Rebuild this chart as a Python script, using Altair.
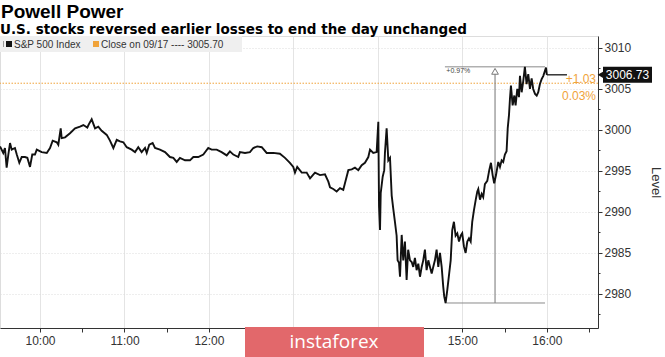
import altair as alt
import pandas as pd

# ---------------- text ----------------
title_text = "Powell Power"
subtitle_text = "U.S. stocks reversed earlier losses to end the day unchanged"
series_name = "S&P 500 Index"
close_label = "Close on 09/17 ---- 3005.70"
axis_title = "Level"
watermark = "instaforex"

# ---------------- data ----------------
# minutes after 09:30 and S&P 500 level
minutes = [1.6, 3.9, 5.1, 6.3, 7.5, 8.7, 9.9, 12.2, 13.5, 15.3, 17.0, 19.3, 21.0, 22.9, 24.5, 26.4, 27.7,
           31.2, 34.8, 37.1, 39.0, 41.9, 43.0, 44.7, 45.4, 47.8, 51.3, 54.9, 58.4, 60.8, 63.6, 65.0, 66.7,
           69.1, 71.4, 73.8, 77.4, 79.7, 82.1, 84.5, 86.8, 89.2, 91.6, 95.1, 97.5, 99.8, 102.2, 104.6,
           105.8, 107.6, 110.0, 111.7, 115.2, 118.8, 122.3, 124.7, 127.1, 129.4, 133.0, 136.5, 138.9,
           142.4, 146.0, 149.5, 151.9, 155.5, 159.0, 162.6, 164.9, 167.3, 170.8, 172.0, 175.6, 179.1,
           181.5, 184.3, 187.5, 191.0, 195.7, 200.4, 204.0, 207.5, 209.9, 211.1, 212.7, 215.9, 219.4,
           221.8, 225.3, 228.9, 232.4, 234.8, 236.0, 238.3, 240.7, 243.1, 245.4, 246.6, 249.0, 251.4,
           253.7, 256.1, 258.5, 260.8, 263.2, 264.4, 266.7, 269.1, 270.3, 270.8, 271.5, 272.0, 273.4,
           274.5, 275.0, 276.2, 277.4, 278.6, 279.8, 280.9, 282.1, 283.3, 284.0, 285.0, 285.7, 286.9,
           288.0, 289.2, 290.4, 291.5, 292.8, 294.0, 295.1, 296.3, 297.5, 298.7, 299.9, 301.1, 302.2,
           303.4, 304.6, 305.8, 307.0, 308.2, 309.3, 310.5, 311.7, 312.9, 314.1, 315.3, 316.4, 317.1,
           318.1, 319.3, 320.7, 321.7, 322.8, 324.0, 325.2, 326.4, 327.6, 328.8, 329.9, 331.1, 332.3,
           333.5, 334.7, 335.9, 337.0, 338.2, 339.6, 340.6, 341.3, 342.5, 343.7, 344.8, 346.0, 347.7,
           349.1, 350.3, 351.5, 352.6, 353.9, 355.5, 356.7, 357.9, 359.0, 360.2, 361.4, 362.2, 363.1,
           363.8, 364.5, 365.7, 366.9, 367.8, 369.0, 370.2, 370.9, 372.1, 373.2, 374.4, 375.6, 376.8,
           378.0, 379.2, 380.3, 381.6, 382.8, 383.9, 385.1, 386.3, 387.5, 388.6, 389.4, 390.0]
levels = [2998.0, 2997.2, 2997.8, 2995.4, 2997.0, 2998.4, 2997.6, 2997.8, 2997.0, 2996.0, 2996.7, 2996.7,
          2996.6, 2995.5, 2997.0, 2997.0, 2997.6,
          2997.3, 2997.2, 2997.8, 2998.7, 2998.5, 2998.2, 3000.2, 2999.0, 2999.1, 2999.6, 3000.2, 3000.4,
          3000.6, 3000.3, 3000.8, 3001.3,
          3000.2, 3000.4, 2999.9, 2999.4, 2998.7, 2997.8, 2998.8, 2998.6, 2998.5, 2997.9, 2997.6, 2997.3,
          2997.9, 2997.3, 2997.8,
          2997.2, 2998.2, 2998.4, 2997.8, 2997.6, 2997.3, 2996.7, 2996.6, 2996.1, 2996.6, 2996.3, 2996.3,
          2996.7,
          2996.7, 2997.0, 2997.8, 2997.6, 2997.6, 2997.3, 2996.9, 2997.4, 2997.0, 2996.7, 2997.3, 2997.2,
          2997.3,
          2997.8, 2998.0, 2997.9, 2997.2, 2997.2, 2997.1, 2996.6, 2996.0, 2995.5, 2994.8, 2995.5, 2994.8,
          2994.8,
          2994.1, 2994.8, 2994.5, 2994.6, 2993.7, 2993.0, 2992.8, 2992.5, 2992.9, 2992.7, 2993.5, 2995.1,
          2995.2,
          2995.4, 2995.1, 2995.7, 2996.0, 2996.7, 2997.6, 2997.2, 2997.3, 3001.0, 2990.7, 2987.8, 2992.3,
          2994.3,
          2995.1, 2997.2, 3000.2, 2996.3, 2996.6, 2992.0, 2990.4, 2988.8, 2987.1, 2984.1, 2983.8, 2982.1,
          2987.2,
          2984.1, 2986.4, 2981.7, 2985.4, 2984.1, 2983.9, 2983.3, 2984.4, 2982.9, 2983.7, 2982.1, 2983.3,
          2984.1,
          2985.4, 2982.9, 2984.1, 2983.3, 2982.5, 2983.3, 2984.1, 2985.4, 2983.3, 2985.0, 2983.3, 2980.9,
          2979.7,
          2978.9, 2980.5, 2982.6, 2984.1, 2987.8, 2988.8, 2987.1, 2987.4, 2986.4, 2987.1, 2987.4, 2985.8,
          2985.0,
          2986.4, 2986.8, 2986.4, 2988.8, 2990.2, 2991.6, 2992.5, 2992.8, 2991.5, 2992.2, 2991.8, 2993.4,
          2993.8,
          2995.1, 2996.0, 2994.5, 2993.5, 2994.5, 2996.1, 2995.5, 2996.3, 2996.1, 2997.0, 2997.4, 3000.2,
          3001.8,
          3003.8, 3005.4, 3003.0, 3004.2, 3003.0, 3005.0, 3004.0, 3006.6, 3004.6, 3005.9, 3007.7, 3005.6,
          3006.8,
          3005.0, 3006.3, 3005.0, 3004.4, 3004.2, 3004.6, 3005.6, 3006.2, 3006.6, 3007.2, 3007.6, 3006.73]

prev_close = 3005.70
last_value = 3006.73
last_label = "3006.73"
change_abs = "+1.03"
change_pct = "0.03%"
range_pct = "+0.97%"
day_high = 3007.7
day_low = 2978.9
range_minutes = [317.6, 388.7]     # span of the high/low brackets
range_marker_minute = 353.2        # vertical range marker
last_extension_minutes = [390.0, 404.3]

y_ticks = [2977.5, 2980, 2982.5, 2985, 2987.5, 2990, 2992.5, 2995, 2997.5,
           3000, 3002.5, 3005, 3007.5, 3010]
x_ticks = ["10:00", "10:30", "11:00", "11:30", "12:00", "12:30", "13:00", "13:30",
           "14:00", "14:30", "15:00", "15:30", "16:00", "16:30"]

# ---------------- helpers ----------------
base = pd.Timestamp("2019-09-18 09:30:00")


def ts(m):
    return (base + pd.to_timedelta(m, unit="m")).strftime("%Y-%m-%dT%H:%M:%S")


def dt(hhmm, sec=0):
    h, m = hhmm.split(":")
    return alt.DateTime(year=2019, month=9, date=18, hours=int(h), minutes=int(m), seconds=sec)


df = pd.DataFrame({"time": [ts(m) for m in minutes], "level": levels})

BLACK = "#111111"
ORANGE = "#F0A33A"
GREY_TXT = "#333333"
FONT = "Liberation Sans"

xscale = alt.Scale(domain=[dt("09:31", 35), dt("16:36", 20)])
yscale = alt.Scale(domain=[2975.85, 3011.46], nice=False, zero=False)

# 13:00 and 14:00 labels sit under the watermark box in the reference
xaxis = alt.Axis(
    values=[dt(t) for t in x_ticks],
    labelExpr="minutes(datum.value) == 0 && hours(datum.value) != 13 && hours(datum.value) != 14 ? timeFormat(datum.value, '%H:%M') : ''",
    title=None,
    grid=True,
    gridColor="#e4e4e4",
    gridOpacity={"condition": {"test": "minutes(datum.value) == 0", "value": 1}, "value": 0},
    domainColor=GREY_TXT,
    tickColor=GREY_TXT,
    tickSize=4,
    labelFontSize=12,
    labelColor=GREY_TXT,
    labelFont=FONT,
    labelPadding=3,
    labelFlush=False,
)
yaxis = alt.Axis(
    orient="right",
    values=y_ticks,
    labelExpr="datum.value % 5 == 0 ? format(datum.value, 'd') : ''",
    title=axis_title,
    titleFontSize=13,
    titleFontWeight="normal",
    titleColor=GREY_TXT,
    titleFont=FONT,
    titlePadding=18,
    grid=True,
    gridColor="#dddddd",
    gridDash=[1, 2],
    gridOpacity={"condition": {"test": "datum.value % 5 == 0", "value": 1}, "value": 0},
    domainColor=GREY_TXT,
    tickColor=GREY_TXT,
    tickSize={"condition": {"test": "datum.value % 5 == 0", "value": 4}, "value": 2},
    labelFontSize=12,
    labelColor=GREY_TXT,
    labelFont=FONT,
    labelPadding=2,
)


def X(field="time"):
    return alt.X(field, type="temporal", scale=xscale, axis=xaxis)


def Y(field="level"):
    return alt.Y(field, type="quantitative", scale=yscale, axis=yaxis)


one = pd.DataFrame({"k": [0]})

# title / subtitle
title_mark = alt.Chart(pd.DataFrame({"t": [title_text]})).mark_text(
    align="left", baseline="alphabetic", fontSize=19, fontWeight="bold", font=FONT, color="#000000").encode(
    x=alt.value(1), y=alt.value(-18.5), text="t:N")
subtitle_mark = alt.Chart(pd.DataFrame({"t": [subtitle_text]})).mark_text(
    align="left", baseline="alphabetic", fontSize=13.5, fontWeight="bold", font="DejaVu Sans",
    color="#000000").encode(x=alt.value(0), y=alt.value(-2), text="t:N")

# previous close (orange dotted)
close_df = pd.DataFrame({"level": [prev_close]})
close_rule = alt.Chart(close_df).mark_rule(color=ORANGE, strokeDash=[1.5, 1.5], strokeWidth=1).encode(y=Y())

# high / low brackets
hl_df = pd.DataFrame({"time": [ts(range_minutes[0])] * 2, "time2": [ts(range_minutes[1])] * 2,
                      "level": [day_high, day_low]})
hl_rules = alt.Chart(hl_df).mark_rule(color="#8a8a8a", strokeWidth=1).encode(
    x=X(), x2="time2", y=Y())

vert_df = pd.DataFrame({"time": [ts(range_marker_minute)], "level": [day_low], "level2": [day_high - 0.5]})
vert_rule = alt.Chart(vert_df).mark_rule(color="#8a8a8a", strokeWidth=1.2).encode(
    x=X(), y=Y(), y2="level2")

tri_df = pd.DataFrame({"time": [ts(range_marker_minute)], "level": [day_high - 0.55]})
tri = alt.Chart(tri_df).mark_point(shape="triangle-up", filled=True, fill="white", stroke="#777777",
                                   strokeWidth=1, size=45, opacity=1).encode(x=X(), y=Y())

pct_df = pd.DataFrame({"time": [ts(range_minutes[0] + 1.0)], "level": [day_high - 0.55], "t": [range_pct]})
pct_text = alt.Chart(pct_df).mark_text(align="left", baseline="middle", fontSize=7, color="#444444",
                                       font=FONT).encode(x=X(), y=Y(), text="t:N")

# last value extension
ext_df = pd.DataFrame({"time": [ts(last_extension_minutes[0])], "time2": [ts(last_extension_minutes[1])],
                       "level": [last_value]})
ext_rule = alt.Chart(ext_df).mark_rule(color="#333333", strokeWidth=1.5).encode(x=X(), x2="time2", y=Y())

# main series
line = alt.Chart(df).mark_line(color=BLACK, strokeWidth=1.9, strokeJoin="miter", interpolate="linear").encode(
    x=X(), y=Y())

# change labels (orange)
chg_df = pd.DataFrame({"level": [last_value - 0.55, last_value - 2.55], "t": [change_abs, change_pct]})
chg_text = alt.Chart(chg_df).mark_text(align="right", baseline="middle", fontSize=12, color=ORANGE,
                                       font=FONT).encode(x=alt.value(596), y=Y(), text="t:N")

# last value tag
tag_df = pd.DataFrame({"level": [last_value + 0.98], "level2": [last_value - 0.98]})
tag_rect = alt.Chart(tag_df).mark_rect(color=BLACK).encode(
    x=alt.value(603), x2=alt.value(652), y=Y(), y2="level2")
tag_tri_df = pd.DataFrame({"level": [last_value]})
tag_tri = alt.Chart(tag_tri_df).mark_point(shape="triangle-left", filled=True, color=BLACK, size=60,
                                           opacity=1).encode(x=alt.value(601), y=Y())
tag_text_df = pd.DataFrame({"level": [last_value], "t": [last_label]})
tag_text = alt.Chart(tag_text_df).mark_text(align="center", baseline="middle", fontSize=12, color="white",
                                            font=FONT).encode(x=alt.value(627.5), y=Y(), text="t:N")

# legend strip
leg_bg = alt.Chart(one).mark_rect(color="#efefef").encode(
    x=alt.value(0), x2=alt.value(242), y=alt.value(0), y2=alt.value(16))
leg_pin = alt.Chart(one).mark_rule(color="#999999", strokeWidth=1).encode(
    x=alt.value(3.5), y=alt.value(5), y2=alt.value(11))
leg_sq1 = alt.Chart(one).mark_rect(color=BLACK).encode(
    x=alt.value(6), x2=alt.value(12), y=alt.value(5), y2=alt.value(11))
leg_sq2 = alt.Chart(one).mark_rect(color=ORANGE).encode(
    x=alt.value(93), x2=alt.value(99), y=alt.value(5), y2=alt.value(11))
leg_t1 = alt.Chart(pd.DataFrame({"t": [series_name]})).mark_text(
    align="left", baseline="middle", fontSize=10, color=GREY_TXT, font=FONT).encode(
    x=alt.value(14), y=alt.value(8.5), text="t:N")
leg_t2 = alt.Chart(pd.DataFrame({"t": [close_label]})).mark_text(
    align="left", baseline="middle", fontSize=10, color=GREY_TXT, font=FONT).encode(
    x=alt.value(101), y=alt.value(8.5), text="t:N")

# watermark box
wm_rect = alt.Chart(one).mark_rect(color="#E2686B").encode(
    x=alt.value(245), x2=alt.value(424), y=alt.value(291), y2=alt.value(330))
wm_text = alt.Chart(pd.DataFrame({"t": [watermark]})).mark_text(
    align="center", baseline="middle", fontSize=19, color="white", font="Open Sans").encode(
    x=alt.value(334), y=alt.value(306), text="t:N")

chart = alt.layer(
    close_rule, hl_rules, vert_rule, ext_rule, line, tri, pct_text, chg_text,
    tag_rect, tag_tri, tag_text, leg_bg, leg_pin, leg_sq1, leg_sq2, leg_t1, leg_t2,
    wm_rect, wm_text, title_mark, subtitle_mark,
).properties(
    width=598,
    height=292,
    autosize=alt.AutoSizeParams(type="none"),
    padding={"left": 0, "top": 36, "right": 67, "bottom": 29},
).configure_view(stroke=None).configure(background="white")

chart.save("out.html", embed_options={"renderer": "svg", "actions": False})
